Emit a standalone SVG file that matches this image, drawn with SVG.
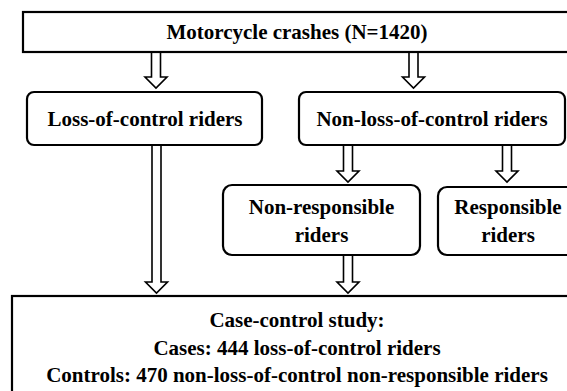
<svg xmlns="http://www.w3.org/2000/svg" width="567" height="391" viewBox="0 0 567 391">
<style>
.box{fill:#fff;stroke:#000;stroke-width:2.2}
.arr{fill:#fff;stroke:#000;stroke-width:1.6;stroke-linejoin:miter}
.t{font-family:'Liberation Serif','Times New Roman',Tinos,'DejaVu Serif',serif;font-weight:bold;font-size:21px;fill:#000;text-anchor:middle}
</style>
<rect width="567" height="391" fill="#fff"/>
<g id="connectors">
<path class="arr" d="M151.5,52 V77 H145 L156,88 L167,77 H160.5 V52"/>
<path class="arr" d="M409,52 V77 H402.5 L413.5,88 L424.5,77 H418 V52"/>
<path class="arr" d="M152,145 V282 H145.5 L156.5,293 L167.5,282 H161 V145"/>
<path class="arr" d="M343.5,145 V171 H337 L348,182 L359,171 H352.5 V145"/>
<path class="arr" d="M502.5,145 V171 H496 L507,182 L518,171 H511.5 V145"/>
<path class="arr" d="M343.5,255 V282 H337 L348,293 L359,282 H352.5 V255"/>
</g>
<g id="crashes">
<rect class="box" x="23" y="12" width="560" height="40"/>
<text class="t" font-family="Liberation Serif, serif" x="297" y="39">Motorcycle crashes (N=1420)</text>
</g>
<g id="loss">
<rect class="box" x="27" y="92" width="235" height="53" rx="7"/>
<text class="t" x="145" y="126">Loss-of-control riders</text>
</g>
<g id="nonloss">
<rect class="box" x="299" y="92" width="266" height="53" rx="7"/>
<text class="t" x="432" y="126">Non-loss-of-control riders</text>
</g>
<g id="nonresp">
<rect class="box" x="223" y="185" width="197" height="70" rx="9"/>
<text class="t" x="321.5" y="214">Non-responsible</text>
<text class="t" x="321.5" y="242">riders</text>
</g>
<g id="resp">
<rect class="box" x="438" y="187" width="145" height="68" rx="9"/>
<text class="t" x="508" y="214">Responsible</text>
<text class="t" x="508" y="242">riders</text>
</g>
<g id="study">
<rect class="box" x="12" y="296" width="580" height="110"/>
<text class="t" x="297" y="327">Case-control study:</text>
<text class="t" x="297" y="355">Cases: 444 loss-of-control riders</text>
<text class="t" x="297" y="382">Controls: 470 non-loss-of-control non-responsible riders</text>
</g>
</svg>
